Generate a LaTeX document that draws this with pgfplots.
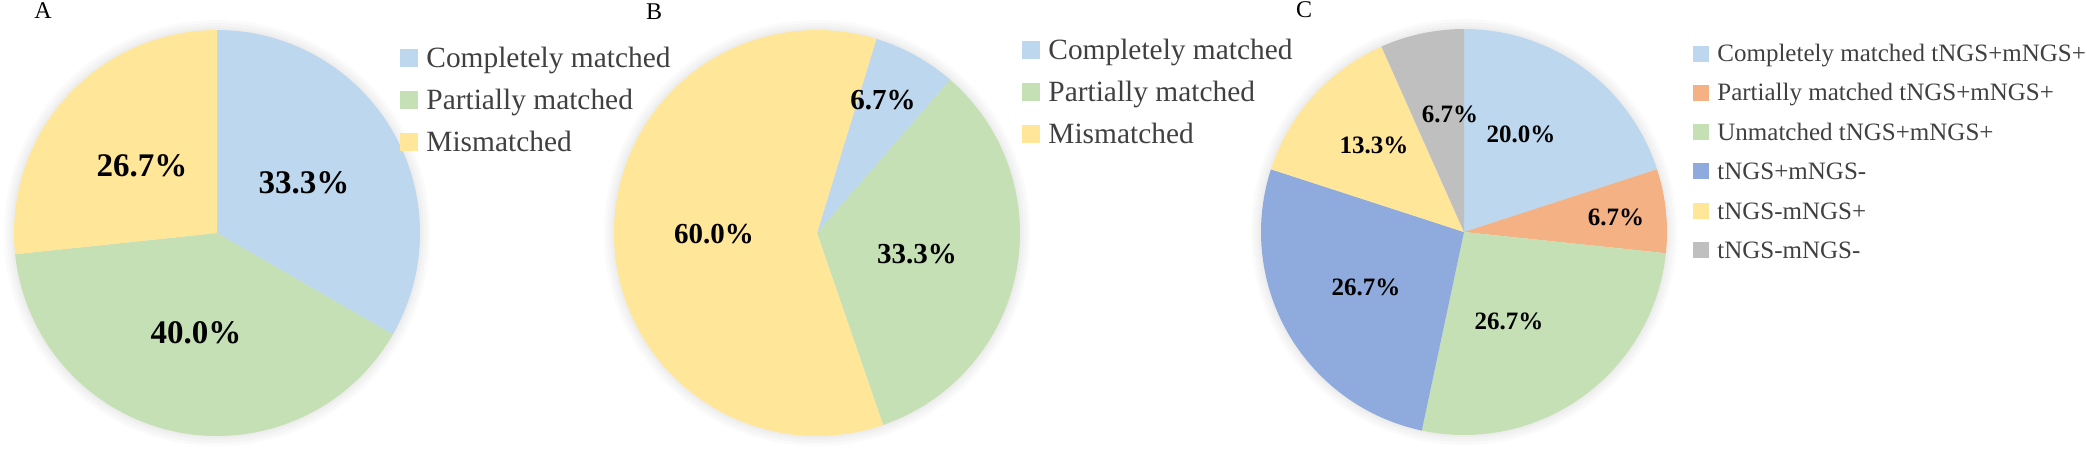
\documentclass[border=0pt]{standalone}
\usepackage{fontspec}
\setmainfont{Liberation Serif}
\usepackage{pgfplots}
\pgfplotsset{compat=1.18}
\definecolor{cBlue}{HTML}{BDD7EE}
\definecolor{cOrange}{HTML}{F4B183}
\definecolor{cGreen}{HTML}{C5E0B4}
\definecolor{cDark}{HTML}{8FAADC}
\definecolor{cYellow}{HTML}{FFE699}
\definecolor{cGray}{HTML}{BFBFBF}
\definecolor{cText}{HTML}{404040}

% one unit = one pixel of the reference = 0.5pt
\newcommand\pieR{101.5pt}
% centre x, centre y, angle of first slice, from (%), to (%), colour
\newcommand\pieslice[6]{%
  \fill[#6] (axis cs:#1,#2) -- ++({#3-3.6*(#4)}:\pieR)
    arc[start angle={#3-3.6*(#4)}, end angle={#3-3.6*(#5)}, radius=\pieR] -- cycle;}
\newcommand\pieglow[2]{%
  \fill[black!60, opacity=0.03] (axis cs:#1,#2) circle[radius=106.5pt];
  \fill[black!60, opacity=0.03] (axis cs:#1,#2) circle[radius=105pt];
  \fill[black!60, opacity=0.03] (axis cs:#1,#2) circle[radius=103.5pt];
  \fill[black!60, opacity=0.03] (axis cs:#1,#2) circle[radius=102.5pt];}
% swatch x, row y, size, colour, text, font size
\newcommand\legrow[6]{%
  \fill[#4] (axis cs:#1,{#2-#3/2}) rectangle (axis cs:{#1+#3},{#2+#3/2});
  \node[anchor=base west, inner sep=0pt, text=cText, font=\fontsize{#6}{#6}\selectfont]
    at (axis cs:{#1+#3+8},{#2+0.33*#6*2}) {#5};}
\newcommand\pct[4]{\node[font=\fontsize{#3}{#3}\selectfont\bfseries, inner sep=0pt] at (axis cs:#1,#2) {#4};}

\begin{document}
\begin{tikzpicture}
\begin{axis}[
    scale only axis, width=1043.5pt, height=225.5pt,
    xmin=0, xmax=2087, ymin=0, ymax=451, y dir=reverse,
    hide axis, clip=false,
  ]
  \coordinate (bl) at (axis cs:0,451);
  \coordinate (tr) at (axis cs:2087,0);

  % ---- A ----
  \node[font=\fontsize{12}{12}\selectfont, inner sep=0pt] at (axis cs:43,11) {A};
  \pieglow{217}{233}
  \pieslice{217}{233}{90}{0}{33.333}{cBlue}
  \pieslice{217}{233}{90}{33.333}{73.333}{cGreen}
  \pieslice{217}{233}{90}{73.333}{100}{cYellow}
  \pct{304}{183}{16.5}{33.3\%}
  \pct{142}{166}{16.5}{26.7\%}
  \pct{196}{333}{16.5}{40.0\%}
  \legrow{400}{58}{18}{cBlue}{Completely matched}{14.7}
  \legrow{400}{100}{18}{cGreen}{Partially matched}{14.7}
  \legrow{400}{142}{18}{cYellow}{Mismatched}{14.7}

  % ---- B ----
  \node[font=\fontsize{12}{12}\selectfont, inner sep=0pt] at (axis cs:654,12) {B};
  \pieglow{817}{233}
  \pieslice{817}{233}{73}{0}{6.667}{cBlue}
  \pieslice{817}{233}{73}{6.667}{40}{cGreen}
  \pieslice{817}{233}{73}{40}{100}{cYellow}
  \pct{883}{100}{14.5}{6.7\%}
  \pct{714}{234}{14.5}{60.0\%}
  \pct{917}{254}{14.5}{33.3\%}
  \legrow{1022}{50}{18}{cBlue}{Completely matched}{14.7}
  \legrow{1022}{92}{18}{cGreen}{Partially matched}{14.7}
  \legrow{1022}{134}{18}{cYellow}{Mismatched}{14.7}

  % ---- C ----
  \node[font=\fontsize{12}{12}\selectfont, inner sep=0pt] at (axis cs:1304,10) {C};
  \pieglow{1464}{232}
  \pieslice{1464}{232}{90}{0}{20}{cBlue}
  \pieslice{1464}{232}{90}{20}{26.667}{cOrange}
  \pieslice{1464}{232}{90}{26.667}{53.333}{cGreen}
  \pieslice{1464}{232}{90}{53.333}{80}{cDark}
  \pieslice{1464}{232}{90}{80}{93.333}{cYellow}
  \pieslice{1464}{232}{90}{93.333}{100}{cGray}
  \pct{1521}{134}{12.5}{20.0\%}
  \pct{1450}{114}{12.5}{6.7\%}
  \pct{1374}{145}{12.5}{13.3\%}
  \pct{1616}{217}{12.5}{6.7\%}
  \pct{1509}{321}{12.5}{26.7\%}
  \pct{1366}{287}{12.5}{26.7\%}
  \legrow{1693}{53.5}{16}{cBlue}{Completely matched tNGS+mNGS+}{12.5}
  \legrow{1693}{92.7}{16}{cOrange}{Partially matched tNGS+mNGS+}{12.5}
  \legrow{1693}{132}{16}{cGreen}{Unmatched tNGS+mNGS+}{12.5}
  \legrow{1693}{171}{16}{cDark}{tNGS+mNGS-}{12.5}
  \legrow{1693}{211}{16}{cYellow}{tNGS-mNGS+}{12.5}
  \legrow{1693}{250}{16}{cGray}{tNGS-mNGS-}{12.5}
\end{axis}
\pgfresetboundingbox
\path[use as bounding box] (bl) rectangle (tr);
\end{tikzpicture}
\end{document}
